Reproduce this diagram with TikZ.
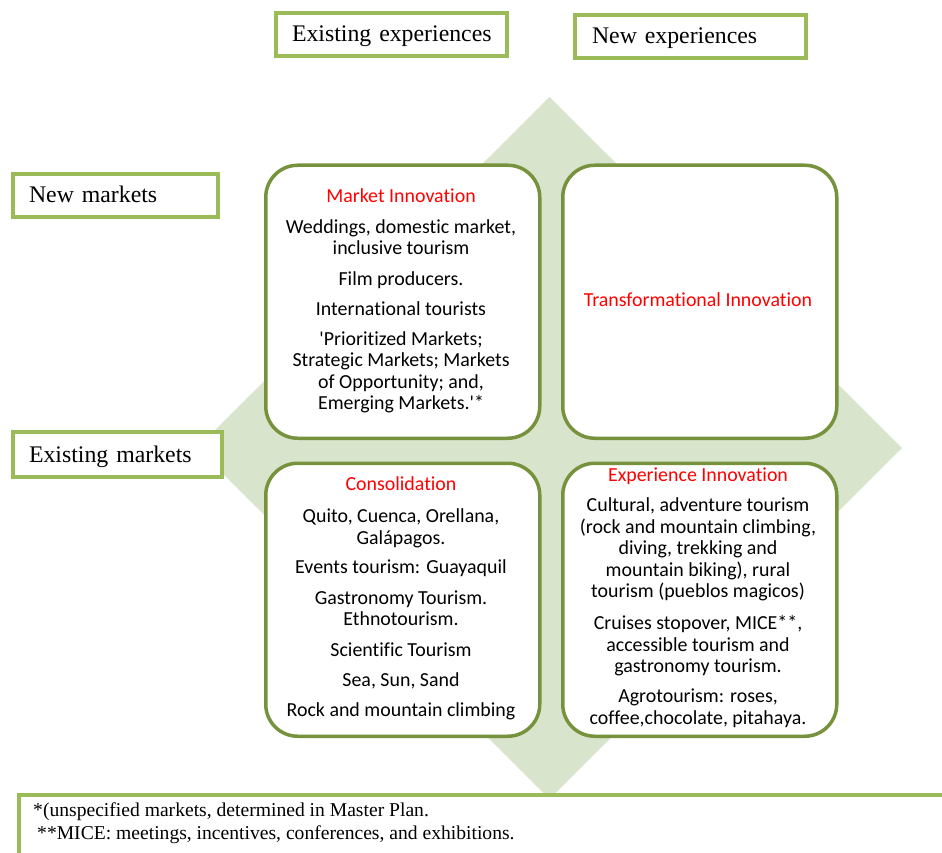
\documentclass[tikz,border=0pt]{standalone}
\usepackage{fontspec}
\setmainfont{Liberation Serif}
\newfontfamily\calibfont[Ligatures={NoCommon}]{Carlito}
\definecolor{diafill}{HTML}{D9E4CC}
\definecolor{quadline}{HTML}{76923C}
\definecolor{lblgreen}{HTML}{9BBB59}
\definecolor{titred}{HTML}{FF0000}
\tikzset{
  quad/.style={draw=quadline, line width=3.5pt, fill=white, rounded corners=32pt,
    inner sep=0pt, anchor=north west, minimum width=274pt, minimum height=273pt},
  labelbox/.style={draw=lblgreen, line width=4pt, fill=white, inner xsep=16pt, inner ysep=0pt,
    align=left, text height=16pt, text depth=1pt, anchor=north west,
    font=\fontsize{23.8}{26}\selectfont},
  body/.style={align=center, inner sep=0pt, anchor=north,
    font=\calibfont\fontsize{19.9}{21.5}\selectfont},
  foottext/.style={inner sep=0pt, anchor=base west, font=\fontsize{19.6}{22}\selectfont}
}
\newcommand{\ttl}[1]{{\color{titred}\rule{0pt}{15pt}#1}}
\begin{document}
\begin{tikzpicture}[x=1pt,y=-1pt]
\useasboundingbox (0,0) rectangle (942,853);
\clip (0,0) rectangle (942,853);
% background diamond
\fill[diafill] (549.5,97) -- (902,448) -- (549.5,799) -- (197,448) -- cycle;
% axis labels
\node[labelbox, minimum width=231pt, minimum height=43pt, text width=199pt] (ee) at (274,11) {\mbox{Existing experiences}};
\node[labelbox, minimum width=231pt, minimum height=43pt, text width=197pt, inner xsep=17pt] (ne) at (573,13) {\mbox{New experiences}};
\node[labelbox, minimum width=205pt, minimum height=43pt, text width=173pt] (nm) at (11,172) {\mbox{New markets}};
\node[labelbox, minimum width=209pt, minimum height=45pt, text width=177pt] (em) at (11,430) {\mbox{Existing markets}};
% quadrants
\node[quad] (mi) at (264,163.5) {};
\node[quad] (ti) at (561,163.5) {};
\node[quad] (co) at (264,461.5) {};
\node[quad] (xi) at (561,461.5) {};
% quadrant texts
\node[body] (mit) at (401,187.5) {\ttl{Market Innovation}\\[9pt]
Weddings, domestic market,\\ inclusive tourism\\[9pt]
Film producers.\\[9pt]
International tourists\\[8pt]
\textquotesingle Prioritized Markets;\\ Strategic Markets; Markets\\ of Opportunity; and,\\ Emerging Markets.\textquotesingle *};
\node[body, anchor=base] (tit) at (698,306.5) {\color{titred}Transformational Innovation};
\node[body] (cot) at (401,475) {\ttl{Consolidation}\\[11pt]
Quito, Cuenca, Orellana,\\ Galápagos.\\[8pt]
Events tourism: Guayaquil\\[9pt]
Gastronomy Tourism.\\ Ethnotourism.\\[9pt]
Scientific Tourism\\[8.5pt]
Sea, Sun, Sand\\[8.5pt]
Rock and mountain climbing};
\node[body] (xit) at (698,466) {\ttl{Experience Innovation}\\[9pt]
Cultural, adventure tourism\\ (rock and mountain climbing,\\ diving, trekking and\\ mountain biking), rural\\ tourism (pueblos magicos)\\[10.5pt]
Cruises stopover, MICE**,\\ accessible tourism and\\ gastronomy tourism.\\[8.5pt]
Agrotourism: roses,\\ coffee,chocolate, pitahaya.};
% footer
\node[draw=lblgreen, line width=4pt, fill=white, anchor=north west, inner sep=0pt,
  minimum width=960pt, minimum height=90pt] (foot) at (17,793) {};
\node[foottext] (f1) at (33,816) {*(unspecified markets, determined in Master Plan.};
\node[foottext] (f2) at (37,839) {**MICE: meetings, incentives, conferences, and exhibitions.};
\end{tikzpicture}
\end{document}
